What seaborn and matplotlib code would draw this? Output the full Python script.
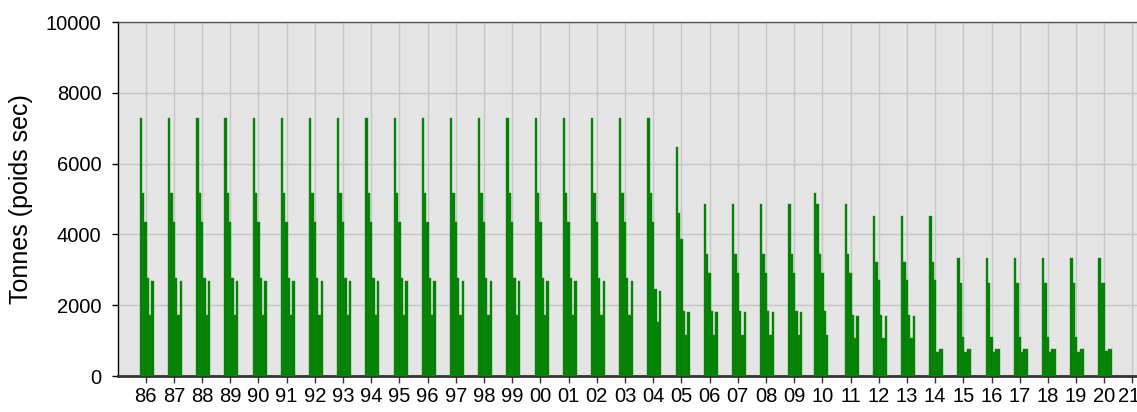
import numpy as np
import pandas as pd
import matplotlib
matplotlib.use("Agg")
import matplotlib.pyplot as plt
import matplotlib.transforms as mtransforms
import seaborn as sns

# ---- data -------------------------------------------------------------
years = ["86", "87", "88", "89", "90", "91", "92", "93", "94", "95",
         "96", "97", "98", "99", "00", "01", "02", "03", "04", "05",
         "06", "07", "08", "09", "10", "11", "12", "13", "14", "15",
         "16", "17", "18", "19", "20", "21"]
data_years = years[:35]  # 86 .. 20

nan = np.nan
s0 = [nan] * 24 + [5160] + [nan] * 10
s1 = [7280] * 19 + [6480] + [4850] * 6 + [4530] * 3 + [3320] * 6
s2 = [5160] * 19 + [4600] + [3460] * 6 + [3230] * 3 + [2620] * 6
s3 = [4340] * 19 + [3870] + [2910] * 6 + [2710] * 3 + [1110] * 5 + [2620]
s4 = [2760] * 18 + [2450] + [1850] * 6 + [1720] * 3 + [690] + [680] * 5 + [710]
s5 = [1720] * 18 + [1530] + [1150] * 6 + [1080] * 3 + [760] + [755] * 5 + [760]
s6 = [2690] * 18 + [2400] + [1800] * 5 + [nan] + [1690] * 3 + [760] + [755] * 5 + [760]

series = {"s0": s0, "s1": s1, "s2": s2, "s3": s3, "s4": s4, "s5": s5, "s6": s6}
series_names = list(series.keys())

rows = []
for name, vals in series.items():
    for y, v in zip(data_years, vals):
        if not np.isnan(v):
            rows.append({"year": y, "series": name, "value": v})
df = pd.DataFrame(rows)

# ---- plot -------------------------------------------------------------
plt.rcParams["font.family"] = ["Liberation Sans", "DejaVu Sans"]

W, H = 1137, 412
fig = plt.figure(figsize=(W / 100, H / 100), dpi=100)
ax = fig.add_axes([118 / W, (H - 376) / H, (W - 118) / W, (376 - 22) / H])
ax.set_facecolor("#e5e5e5")

sns.barplot(data=df, x="year", y="value", hue="series", order=years,
            hue_order=series_names, palette=["#008000"] * len(series_names),
            errorbar=None, width=0.58, dodge=True, legend=False,
            edgecolor="#1f8a1f", linewidth=0.3, saturation=1, ax=ax, zorder=3)

ax.set_xlim(-0.98, 35.16)
ax.set_ylim(0, 10000)
ax.set_yticks(np.arange(0, 10001, 2000))
ax.set_xticks(range(len(years)))
ax.set_xticklabels(years)

ax.grid(True, color="#c6c6c6", linewidth=1.0, zorder=0)
ax.set_axisbelow(True)

ax.tick_params(axis="both", labelsize=14.5, colors="#000000")
ax.tick_params(axis="y", length=4, width=1, pad=8)
ax.tick_params(axis="x", length=5, width=1, pad=3, color="#333333")

# keep the last year label inside the figure
last = ax.get_xticklabels()[-1]
last.set_transform(last.get_transform() +
                   mtransforms.ScaledTranslation(-3 / 100, 0, fig.dpi_scale_trans))

ax.spines["right"].set_visible(False)
ax.spines["left"].set_color("#000000")
ax.spines["left"].set_linewidth(1)
ax.spines["bottom"].set_color("#333333")
ax.spines["bottom"].set_linewidth(2)
ax.spines["top"].set_color("#555555")
ax.spines["top"].set_linewidth(1)

ax.set_xlabel("")
ax.set_ylabel("Tonnes (poids sec)", fontsize=18, labelpad=9)

fig.savefig("out.png", dpi=100)
